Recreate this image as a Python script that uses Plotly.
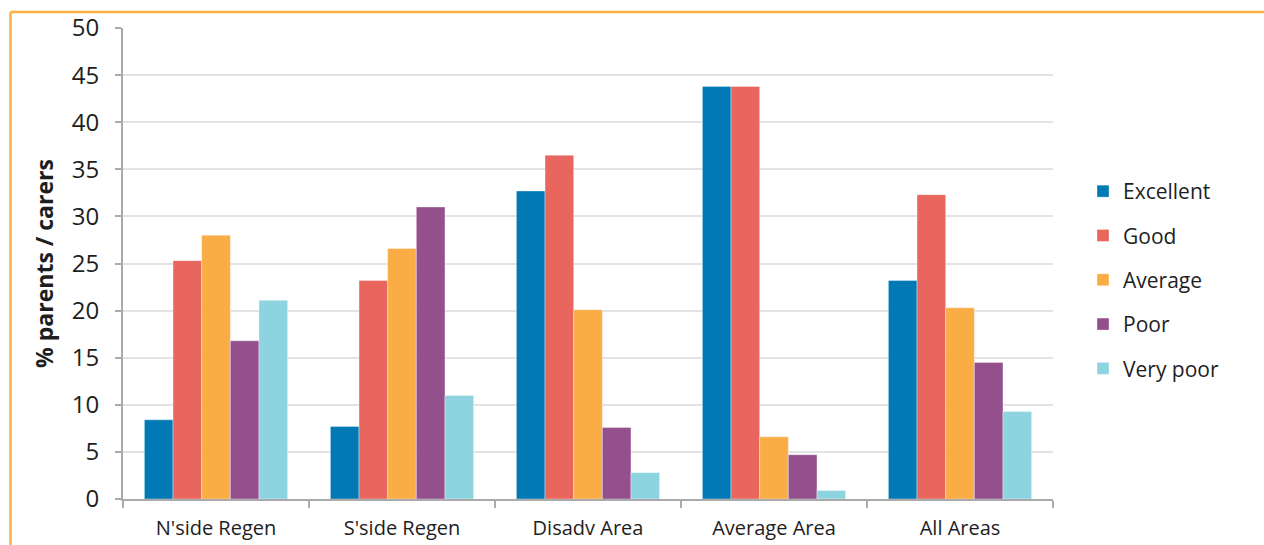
import plotly.graph_objects as go

# Survey responses: share of parents / carers giving each rating, by area
areas = ["N'side Regen", "S'side Regen", "Disadv Area", "Average Area", "All Areas"]
ratings = ["Excellent", "Good", "Average", "Poor", "Very poor"]

excellent = [8.4, 7.7, 32.7, 43.8, 23.2]
good = [25.3, 23.2, 36.5, 43.8, 32.3]
average = [28.0, 26.6, 20.1, 6.6, 20.3]
poor = [16.8, 31.0, 7.6, 4.7, 14.5]
very_poor = [21.1, 11.0, 2.8, 0.9, 9.3]

series = [excellent, good, average, poor, very_poor]
colors = ["#0079B4", "#E8665E", "#FAAD45", "#93508C", "#8DD4E0"]

W, H = 1264, 545
L, R, T, B = 123, 211, 28, 46
PW, PH = W - L - R, H - T - B

fig = go.Figure()
for name, vals, col in zip(ratings, series, colors):
    fig.add_trace(go.Bar(
        x=areas, y=vals, name=name, legendgroup=name,
        marker=dict(color=col, line=dict(width=0.6, color="rgba(255,255,255,0.6)")),
    ))

FONT = "Open Sans, Noto Sans, sans-serif"
TXT = "#1E1E1E"

def px_x(px):
    return (px - L) / PW

def px_y(py):
    return (H - B - py) / PH

# Orange frame along the top and left edges of the figure
frame = dict(color="#FBB040", width=2.5)
shapes = [
    dict(type="line", xref="paper", yref="paper", x0=px_x(10.5), x1=px_x(W + 5),
         y0=px_y(12), y1=px_y(12), line=frame, layer="above"),
    dict(type="line", xref="paper", yref="paper", x0=px_x(10.5), x1=px_x(10.5),
         y0=px_y(12), y1=px_y(H + 5), line=frame, layer="above"),
]

fig.update_layout(
    width=W, height=H,
    margin=dict(l=L, r=R, t=T, b=B, autoexpand=False),
    paper_bgcolor="white", plot_bgcolor="white",
    barmode="group", bargap=0.23, bargroupgap=0,
    font=dict(family=FONT, color=TXT),
    shapes=shapes,
    legend=dict(
        x=px_x(1083), y=px_y(171), xanchor="left", yanchor="top",
        font=dict(size=21, family=FONT, color=TXT),
        tracegroupgap=14, itemwidth=30, bgcolor="rgba(0,0,0,0)",
    ),
    xaxis=dict(
        showgrid=False, showline=True, linecolor="#AAAAAA", linewidth=2,
        ticks="outside", tickson="boundaries", ticklen=7, tickcolor="#AAAAAA", tickwidth=2,
        tickfont=dict(size=20, family=FONT, color=TXT), ticklabelstandoff=10,
    ),
    yaxis=dict(
        range=[0, 50], dtick=5, showgrid=True, gridcolor="#E3E3E3", gridwidth=1.5,
        showline=True, linecolor="#AAAAAA", linewidth=2,
        ticks="outside", ticklen=6, tickcolor="#AAAAAA", tickwidth=2,
        tickfont=dict(size=24, family=FONT, color=TXT), ticklabelstandoff=11,
        zeroline=False,
        title=dict(text="<b>% parents / carers</b>", font=dict(size=23, family=FONT, color=TXT),
                   standoff=12),
    ),
)

fig.write_html("out.html")
